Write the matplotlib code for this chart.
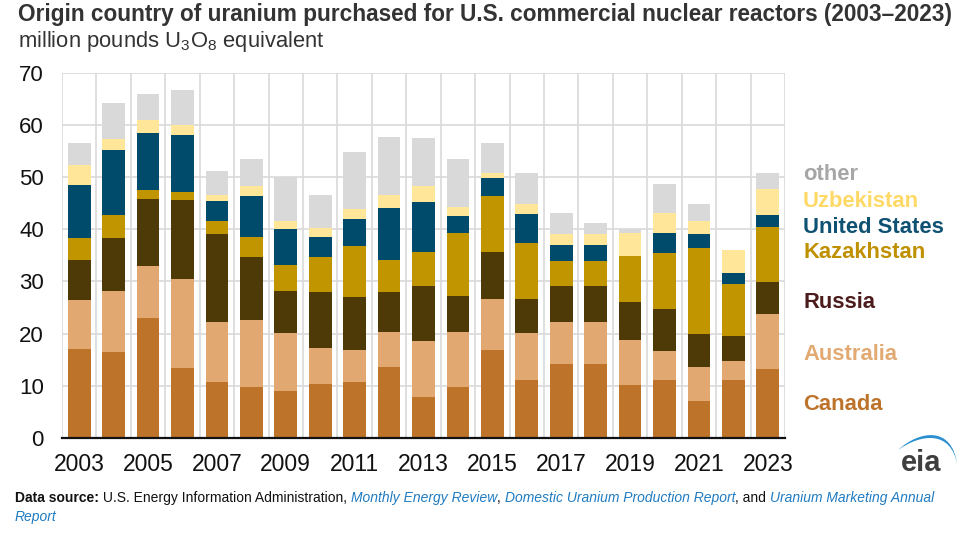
import numpy as np
import matplotlib
matplotlib.use('Agg')
import matplotlib.pyplot as plt
from matplotlib.path import Path
from matplotlib.patches import PathPatch

plt.rcParams['font.family'] = ['Liberation Sans', 'DejaVu Sans']
plt.rcParams['mathtext.fontset'] = 'custom'
plt.rcParams['mathtext.rm'] = 'Liberation Sans'

years = list(range(2003, 2024))

# million pounds U3O8e, stacked bottom -> top
canada = [17.1, 16.5, 22.9, 13.4, 10.8, 9.8, 9.0, 10.3, 10.8, 13.7, 7.9,
          9.8, 16.9, 11.1, 14.1, 14.1, 10.2, 11.1, 7.0, 11.1, 13.2]
australia = [9.4, 11.6, 10.0, 17.1, 11.5, 12.8, 11.1, 7.0, 6.1, 6.6, 10.6,
             10.5, 9.7, 9.0, 8.1, 8.1, 8.5, 5.5, 6.7, 3.7, 10.6]
russia = [7.6, 10.3, 12.9, 15.1, 16.7, 12.1, 8.1, 10.7, 10.2, 7.6, 10.6,
          6.9, 9.1, 6.5, 7.0, 7.0, 7.4, 8.1, 6.2, 4.8, 6.0]
kazakhstan = [4.2, 4.3, 1.7, 1.6, 2.5, 3.8, 4.9, 6.7, 9.7, 6.3, 6.6,
              12.0, 10.7, 10.8, 4.7, 4.7, 8.7, 10.8, 16.6, 10.0, 10.6]
united_states = [10.2, 12.4, 11.0, 10.9, 3.9, 7.8, 7.0, 3.8, 5.2, 9.8, 9.5,
                 3.4, 3.4, 5.5, 3.0, 3.0, 0.0, 3.7, 2.6, 2.0, 2.4]
uzbekistan = [3.8, 2.2, 2.5, 1.9, 1.2, 1.9, 1.5, 1.8, 1.8, 2.6, 3.0,
              1.7, 1.0, 2.0, 2.1, 2.1, 4.4, 3.9, 2.4, 4.4, 4.9]
other = [4.3, 6.9, 4.9, 6.6, 4.5, 5.3, 8.5, 6.3, 11.1, 11.0, 9.2,
         9.1, 5.8, 5.8, 4.1, 2.2, 0.9, 5.5, 3.4, 0.0, 3.0]

series = [
    ('Canada', canada, '#BD742A', '#BD732A'),
    ('Australia', australia, '#E2A872', '#E2AA72'),
    ('Russia', russia, '#4D3A06', '#4C1B1B'),
    ('Kazakhstan', kazakhstan, '#C09500', '#BF9000'),
    ('United States', united_states, '#004A6C', '#0E5173'),
    ('Uzbekistan', uzbekistan, '#FFE699', '#FFD966'),
    ('other', other, '#D9D9D9', '#A6A6A6'),
]

W, H = 980, 537
fig = plt.figure(figsize=(W / 100, H / 100), dpi=100)
ax = fig.add_axes([62 / W, (H - 438) / H, (785 - 62) / W, (438 - 72.7) / H])

x = np.arange(len(years))
bottom = np.zeros(len(years))
for name, vals, col, _ in series:
    ax.bar(x, vals, bottom=bottom, width=0.66, color=col, zorder=3,
           linewidth=0)
    bottom += np.array(vals)

ax.set_xlim(-0.5, len(years) - 0.5)
ax.set_ylim(0, 70)
ax.set_yticks(range(0, 71, 10))
ax.set_xticks(x[::2])
ax.set_xticklabels([str(y) for y in years[::2]])
ax.set_xticks(np.arange(-0.5, len(years), 1.0), minor=True)
ax.tick_params(axis='both', which='both', length=0)
ax.tick_params(axis='y', labelsize=16, pad=13, labelcolor='#111111')
ax.tick_params(axis='x', labelsize=16.5, pad=11, labelcolor='#111111')
ax.grid(True, axis='y', which='major', color='#D9D9D9', linewidth=1.2, zorder=0)
ax.grid(True, axis='x', which='minor', color='#D9D9D9', linewidth=1.2, zorder=0)
ax.grid(False, axis='x', which='major')
for s in ['top', 'right', 'left']:
    ax.spines[s].set_visible(False)
ax.spines['bottom'].set_color('#111111')
ax.spines['bottom'].set_linewidth(1.6)
ax.spines['bottom'].set_zorder(5)

# legend labels on the right
label_y = {'other': 175, 'Uzbekistan': 202, 'United States': 227,
           'Kazakhstan': 252, 'Russia': 303, 'Australia': 354, 'Canada': 405}
for name, _, _, tcol in series:
    fig.text(803 / W, 1 - label_y[name] / H, name, color=tcol,
             fontsize=15.8, fontweight='bold', va='center', ha='left')

# title
fig.text(18 / W, 1 - 14 / H,
         'Origin country of uranium purchased for U.S. commercial nuclear reactors (2003\u20132023)',
         fontsize=16.3, fontweight='bold', color='#333333', va='center', ha='left')
fig.text(18 / W, 1 - 41 / H,
         r'million pounds U$_\mathregular{3}$O$_\mathregular{8}$ equivalent',
         fontsize=15.8, color='#333333', va='center', ha='left')

# footer with mixed styles
fig.canvas.draw()
renderer = fig.canvas.get_renderer()
link = '#1F7BC1'
pieces = [
    ('Data source:', 'bold', 'normal', '#111111'),
    (' U.S. Energy Information Administration, ', 'normal', 'normal', '#111111'),
    ('Monthly Energy Review', 'normal', 'italic', link),
    (', ', 'normal', 'normal', '#111111'),
    ('Domestic Uranium Production Report', 'normal', 'italic', link),
    (', and ', 'normal', 'normal', '#111111'),
    ('Uranium Marketing Annual', 'normal', 'italic', link),
]
xpos = 15
for txt, wt, st, col in pieces:
    t = fig.text(xpos / W, 1 - 498 / H, txt, fontsize=10, fontweight=wt,
                 fontstyle=st, color=col, va='center', ha='left')
    bb = t.get_window_extent(renderer=renderer)
    xpos += bb.width
fig.text(15 / W, 1 - 517 / H, 'Report', fontsize=10, fontstyle='italic',
         color=link, va='center', ha='left')

# eia logo
lax = fig.add_axes([890 / W, (H - 478) / H, 75 / W, 50 / H])
lax.set_xlim(890, 965)
lax.set_ylim(478, 428)
lax.axis('off')
arc = Path([(898, 450), (920, 430), (952, 426), (957, 464),
            (951, 431), (922, 433), (898, 450)],
           [Path.MOVETO, Path.CURVE4, Path.CURVE4, Path.CURVE4,
            Path.CURVE4, Path.CURVE4, Path.CURVE4])
lax.add_patch(PathPatch(arc, facecolor='#2A8FD0', edgecolor='none'))
lax.text(921, 463, 'eia', fontsize=21, fontweight='bold', color='#3F3F3F',
         ha='center', va='center')

fig.savefig('out.png', dpi=100)
